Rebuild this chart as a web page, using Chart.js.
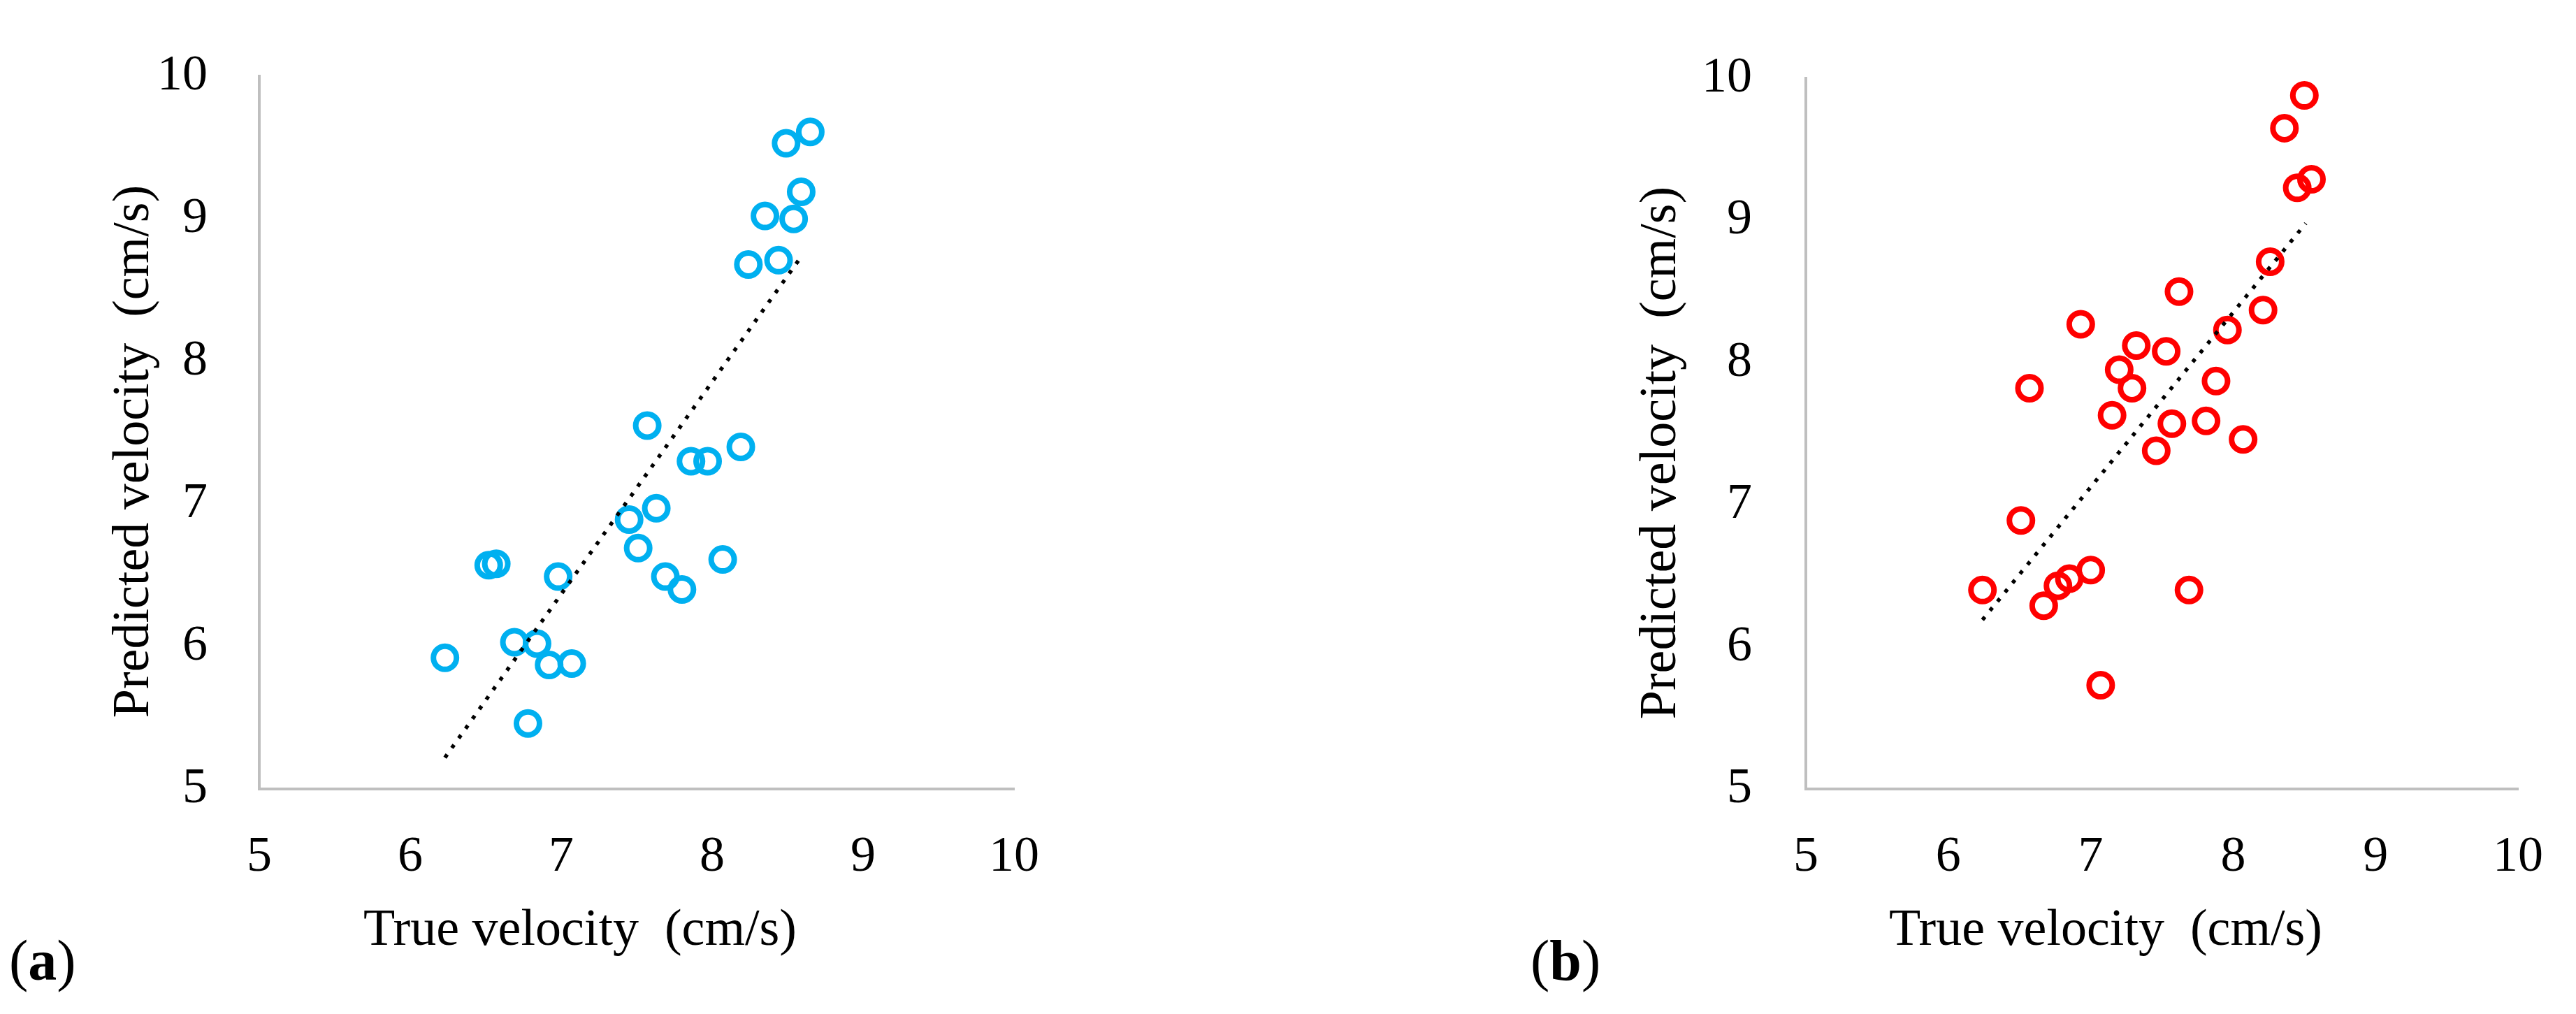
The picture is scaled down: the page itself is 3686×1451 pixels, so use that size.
<!DOCTYPE html>
<html>
<head>
<meta charset="utf-8">
<title>True vs predicted velocity</title>
<script src="https://cdn.jsdelivr.net/npm/chart.js@4.4.1/dist/chart.umd.min.js"></script>
<style>
  html, body { margin: 0; padding: 0; background: #fff; }
  #wrap { position: relative; width: 3686px; height: 1451px; overflow: hidden; }
  .panel { position: absolute; top: 0; width: 1843px; height: 1451px; }
  #panel-a { left: 0; }
  #panel-b { left: 1843px; }
</style>
</head>
<body>
<div id="wrap">
  <div class="panel" id="panel-a"><canvas id="chart-a" width="1843" height="1451"></canvas></div>
  <div class="panel" id="panel-b"><canvas id="chart-b" width="1843" height="1451"></canvas></div>
</div>
<script>
// --- DATOS ---
const tickValues = [5, 6, 7, 8, 9, 10];

// panel (a)
const trueVelA = [8.65, 8.49, 8.59, 8.35, 8.54, 8.24, 8.44, 7.57, 8.19, 7.86, 7.97, 7.63, 7.45, 7.51,
                  8.07, 7.69, 7.80, 6.98, 6.52, 6.57, 6.69, 6.84, 6.92, 7.07, 6.23, 6.78];
const predVelA = [9.61, 9.53, 9.19, 9.02, 9.00, 8.68, 8.71, 7.55, 7.40, 7.30, 7.30, 6.97, 6.89, 6.69,
                  6.61, 6.49, 6.40, 6.49, 6.57, 6.58, 6.03, 6.02, 5.87, 5.88, 5.92, 5.46];
const trendXA = [6.23, 8.60];
const trendYA = [5.22, 8.75];

// panel (b)
const trueVelB = [8.50, 8.36, 8.45, 8.55, 8.26, 7.62, 8.21, 6.93, 7.96, 7.32, 7.53, 7.20, 7.29, 6.57,
                  7.88, 7.15, 7.57, 7.81, 8.07, 7.46, 6.51, 7.00, 6.85, 6.77, 6.24, 6.67, 7.69, 7.07];
const predVelB = [9.88, 9.65, 9.23, 9.29, 8.71, 8.50, 8.37, 8.27, 8.23, 8.12, 8.08, 7.95, 7.82, 7.82,
                  7.87, 7.63, 7.57, 7.59, 7.46, 7.38, 6.89, 6.54, 6.48, 6.43, 6.40, 6.29, 6.40, 5.73];
const trendXB = [6.24, 8.51];
const trendYB = [6.19, 8.98];

const FONT = 'Liberation Serif';

// Títulos de ejes y etiqueta del panel, dibujados encima del gráfico
const captionPlugin = {
    id: 'captions',
    afterDraw(chart, args, opts) {
        const ctx = chart.ctx;
        ctx.save();
        ctx.fillStyle = '#000';
        ctx.textBaseline = 'alphabetic';
        ctx.font = `74px "${FONT}"`;

        ctx.textAlign = 'center';
        ctx.fillText(opts.xTitle, opts.xTitleX, opts.xTitleY);

        ctx.save();
        ctx.translate(opts.yTitleX, opts.yTitleY);
        ctx.rotate(-Math.PI / 2);
        ctx.fillText(opts.yTitle, 0, 0);
        ctx.restore();

        // "(a)" con la letra en negrita
        ctx.textAlign = 'left';
        let x = opts.tagX;
        const parts = [['(', ''], [opts.tag, 'bold '], [')', '']];
        parts.forEach(([txt, weight]) => {
            ctx.font = `${weight}82px "${FONT}"`;
            ctx.fillText(txt, x, opts.tagY);
            x += ctx.measureText(txt).width;
        });
        ctx.restore();
    }
};

function toPoints(xs, ys) {
    return xs.map((x, i) => ({ x: x, y: ys[i] }));
}

function buildChart(canvasId, xs, ys, tx, ty, color, layout) {
    const tickFont = { family: FONT, size: 72 };
    const axisBorder = { display: true, color: '#BFBFBF', width: 4 };
    const setTicks = scale => { scale.ticks = tickValues.map(v => ({ value: v })); };

    return new Chart(document.getElementById(canvasId), {
        type: 'scatter',
        data: {
            datasets: [{
                data: toPoints(tx, ty),
                showLine: true,
                borderColor: '#000',
                borderWidth: 5.5,
                borderDash: [5.5, 11.5],
                pointRadius: 0,
                fill: false,
                order: -1
            }, {
                data: toPoints(xs, ys),
                pointStyle: 'circle',
                pointRadius: 16.5,
                pointBorderWidth: 8,
                pointBorderColor: color,
                pointBackgroundColor: 'rgba(0,0,0,0)',
                pointHoverRadius: 16.5,
                order: 0,
                clip: false
            }]
        },
        options: {
            responsive: false,
            animation: false,
            events: [],
            layout: { padding: { left: 0, right: layout.padRight, top: 43, bottom: 0 } },
            scales: {
                x: {
                    type: 'linear',
                    min: 5, max: 10,
                    grid: { display: false },
                    border: axisBorder,
                    afterBuildTicks: setTicks,
                    afterFit: scale => { scale.height = 322; },
                    ticks: { font: tickFont, color: '#000', padding: 47, maxRotation: 0 }
                },
                y: {
                    type: 'linear',
                    min: 5, max: 10,
                    grid: { display: false },
                    border: axisBorder,
                    afterBuildTicks: setTicks,
                    afterFit: scale => { scale.width = layout.yWidth; },
                    ticks: { font: tickFont, color: '#000', padding: layout.tickPad }
                }
            },
            plugins: {
                legend: { display: false },
                tooltip: { enabled: false },
                captions: layout.captions
            }
        },
        plugins: [captionPlugin]
    });
}

buildChart('chart-a', trueVelA, predVelA, trendXA, trendYA, '#00B0F0', {
    padRight: 392, yWidth: 371, tickPad: 66,
    captions: {
        xTitle: 'True velocity  (cm/s)', xTitleX: 830, xTitleY: 1352,
        yTitle: 'Predicted velocity  (cm/s)', yTitleX: 212, yTitleY: 646,
        tag: 'a', tagX: 13, tagY: 1402
    }
});

buildChart('chart-b', trueVelB, predVelB, trendXB, trendYB, '#FF0000', {
    padRight: 54, yWidth: 741, tickPad: 69,
    captions: {
        xTitle: 'True velocity  (cm/s)', xTitleX: 1170, xTitleY: 1352,
        yTitle: 'Predicted velocity  (cm/s)', yTitleX: 554, yTitleY: 648,
        tag: 'b', tagX: 347, tagY: 1402
    }
});
</script>
</body>
</html>
